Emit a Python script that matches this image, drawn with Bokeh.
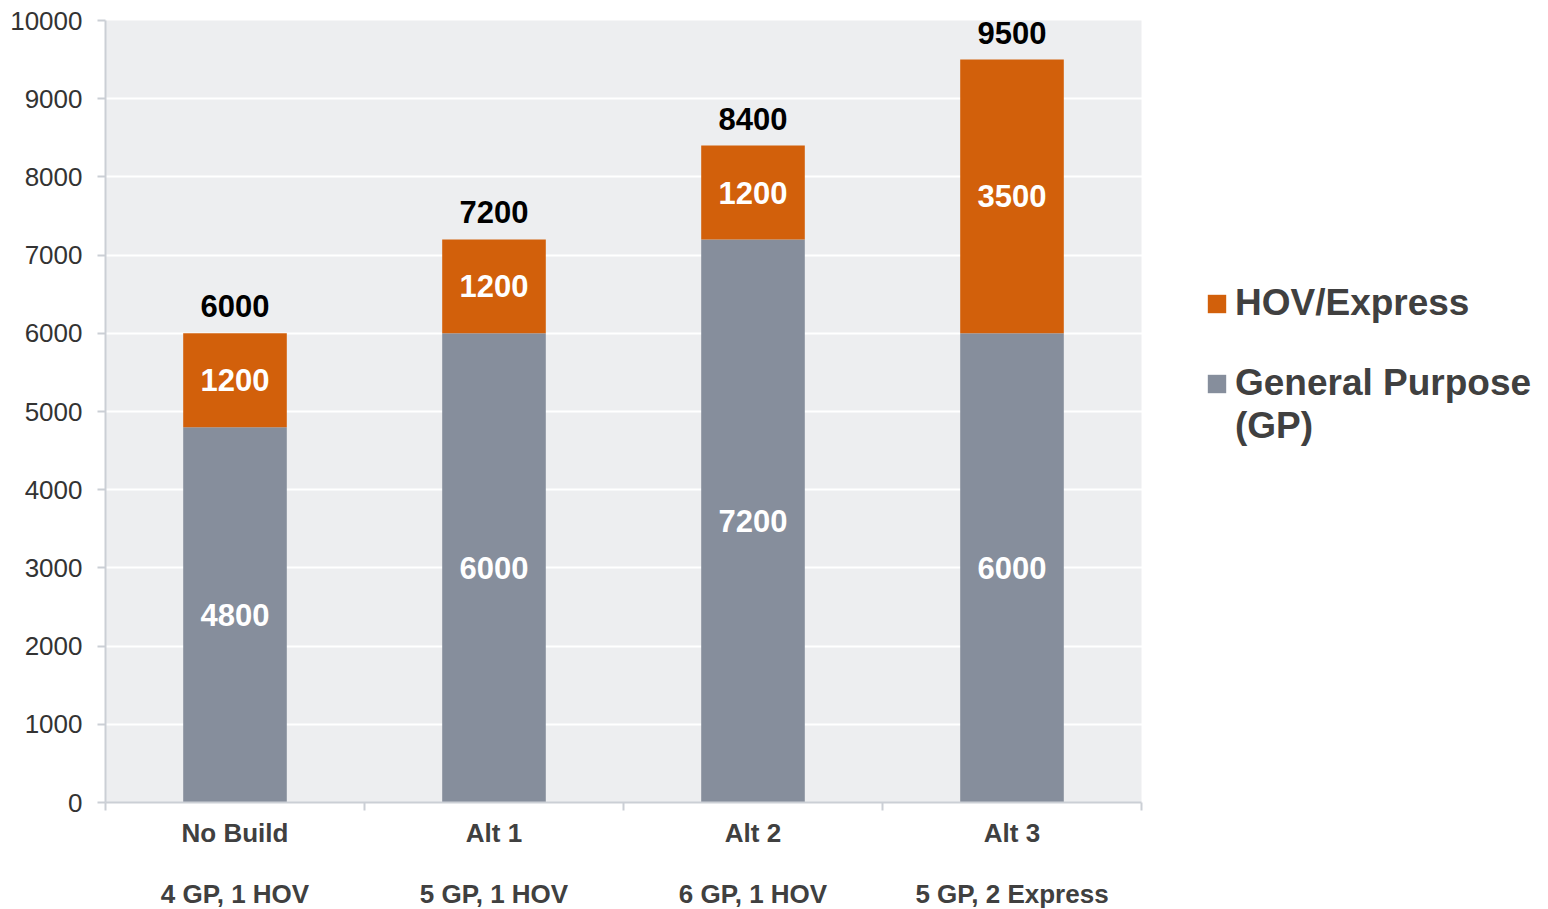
from bokeh.plotting import figure
from bokeh.models import (ColumnDataSource, Range1d, FixedTicker, LinearAxis,
                          LabelSet, Legend, LegendItem, BoxAnnotation)
from bokeh.core.properties import value
from bokeh.embed import file_html
from bokeh.resources import INLINE

categories = ["No Build", "Alt 1", "Alt 2", "Alt 3"]
lanes = ["4 GP, 1 HOV", "5 GP, 1 HOV", "6 GP, 1 HOV", "5 GP, 2 Express"]
gp = [4800, 6000, 7200, 6000]
hov = [1200, 1200, 1200, 3500]
totals = [6000, 7200, 8400, 9500]
y_ticks = [0, 1000, 2000, 3000, 4000, 5000, 6000, 7000, 8000, 9000, 10000]
Y_MAX = 10000

ORANGE = "#D2600B"
GRAY = "#868E9C"
BG = "#EDEEF0"
AXIS = "#CBCFD5"
FONT = "Liberation Sans"

# layout (pixels): plot area is 1036 x 782, the frame is extended so that
# the legend (outside the plot area) is not clipped
PLOT_W, PLOT_H = 1036, 782
FRAME_W, FRAME_H = 1435, 802

n = len(categories)
xs = list(range(n))
src = ColumnDataSource(dict(
    x=xs, gp=gp, hov=hov, top=[g + h for g, h in zip(gp, hov)], total=totals,
    gp_mid=[g / 2 for g in gp], hov_mid=[g + h / 2 for g, h in zip(gp, hov)],
    gp_txt=[str(v) for v in gp], hov_txt=[str(v) for v in hov],
    tot_txt=[str(v) for v in totals],
))

p = figure(frame_width=FRAME_W, frame_height=FRAME_H,
           x_range=Range1d(-0.5, -0.5 + n * FRAME_W / PLOT_W),
           y_range=Range1d(0, Y_MAX * FRAME_H / PLOT_H),
           output_backend="svg", toolbar_location=None,
           x_axis_location=None,
           min_border_left=105, min_border_top=0, min_border_right=0,
           min_border_bottom=107)
p.background_fill_color = "white"
p.border_fill_color = "white"
p.outline_line_color = None

p.add_layout(BoxAnnotation(left=-0.5, right=n - 0.5, bottom=0, top=Y_MAX,
                           fill_color=BG, fill_alpha=1, line_color=None,
                           level="image"))

p.xgrid.visible = False
p.ygrid.ticker = FixedTicker(ticks=y_ticks[:-1])
p.ygrid.grid_line_color = "white"
p.ygrid.grid_line_width = 2

# y axis
ya = p.yaxis[0]
ya.ticker = FixedTicker(ticks=y_ticks)
ya.bounds = (0, Y_MAX)
ya.axis_line_color = AXIS
ya.axis_line_width = 2
ya.major_tick_line_color = AXIS
ya.major_tick_line_width = 2
ya.major_tick_out = 8
ya.major_tick_in = 0
ya.minor_tick_line_color = None
ya.major_label_text_font = FONT
ya.major_label_text_font_size = "26px"
ya.major_label_text_color = "#333333"
ya.major_label_standoff = 15

gp_r = p.vbar(x="x", bottom=0, top="gp", width=0.4, source=src,
              fill_color=GRAY, line_color=None)
hov_r = p.vbar(x="x", bottom="gp", top="top", width=0.4, source=src,
               fill_color=ORANGE, line_color=None)
# invisible renderer used only for the legend's second text line
blank_r = p.vbar(x=[], top=[], width=0.4, fill_alpha=0, line_alpha=0)

# x axes
boundaries = [i - 0.5 for i in xs] + [xs[-1] + 0.5]
xa = LinearAxis(ticker=FixedTicker(ticks=xs, minor_ticks=boundaries))
xa.bounds = (-0.5, n - 0.5)
xa.major_label_overrides = {i: c for i, c in zip(xs, categories)}
xa.axis_line_color = AXIS
xa.axis_line_width = 2
xa.major_tick_line_color = None
xa.major_tick_out = 0
xa.major_tick_in = 0
xa.minor_tick_line_color = AXIS
xa.minor_tick_line_width = 2
xa.minor_tick_out = 8
xa.minor_tick_in = 0
xa.major_label_text_font = FONT
xa.major_label_text_font_size = "26px"
xa.major_label_text_font_style = "bold"
xa.major_label_text_color = "#404040"
xa.major_label_standoff = 7
p.add_layout(xa, "below")

xb = LinearAxis(ticker=FixedTicker(ticks=xs))
xb.major_label_overrides = {i: c for i, c in zip(xs, lanes)}
xb.axis_line_color = None
xb.major_tick_line_color = None
xb.minor_tick_line_color = None
xb.major_tick_out = 0
xb.major_tick_in = 0
xb.major_label_text_font = FONT
xb.major_label_text_font_size = "26px"
xb.major_label_text_font_style = "bold"
xb.major_label_text_color = "#404040"
xb.major_label_standoff = 28
p.add_layout(xb, "below")

common = dict(source=src, text_font=value(FONT), text_font_size="31px",
              text_font_style="bold", text_align="center")
p.add_layout(LabelSet(x="x", y="gp_mid", text="gp_txt", text_color="white",
                      text_baseline="middle", **common))
p.add_layout(LabelSet(x="x", y="hov_mid", text="hov_txt", text_color="white",
                      text_baseline="middle", **common))
p.add_layout(LabelSet(x="x", y="total", text="tot_txt", text_color="black",
                      text_baseline="alphabetic", y_offset=16, **common))


def style(lg):
    lg.glyph_width = 23
    lg.glyph_height = 23
    lg.label_text_font = FONT
    lg.label_text_font_size = "37px"
    lg.label_text_font_style = "bold"
    lg.label_text_color = "#404040"
    lg.label_standoff = 7
    lg.spacing = 1
    lg.padding = 0
    lg.margin = 0
    lg.border_line_color = None
    lg.background_fill_alpha = 0


leg_a = Legend(items=[LegendItem(label="HOV/Express", renderers=[hov_r])],
               location=(1100, 478))
leg_b = Legend(items=[LegendItem(label="General Purpose", renderers=[gp_r]),
                      LegendItem(label="(GP)", renderers=[blank_r])],
               location=(1100, 355))
style(leg_a)
style(leg_b)
p.add_layout(leg_a, "center")
p.add_layout(leg_b, "center")

open("out.html", "w").write(file_html(p, INLINE))
